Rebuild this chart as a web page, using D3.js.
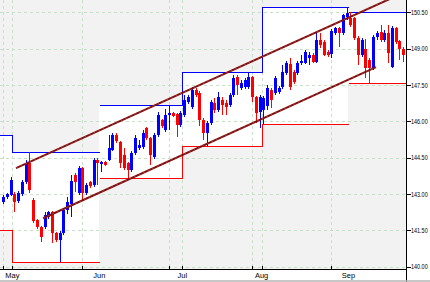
<!DOCTYPE html>
<html>
<head>
<meta charset="utf-8">
<script src="https://cdn.jsdelivr.net/npm/d3@7"></script>
<style>
  body { margin: 0; background: #fff; }
  svg { display: block; }
  text { font-family: "Liberation Sans", Arial, sans-serif; fill: #000; }
</style>
</head>
<body>
<div id="chart"></div>
<script>
// daily candles, one entry per trading day
var opens = [142.66,142.87,142.95,142.99,142.70,142.99,143.49,144.28,142.75,141.92,
  141.63,141.63,142.04,142.25,141.38,141.09,141.38,142.33,142.58,143.78,
  143.04,144.07,143.04,143.49,143.37,144.40,144.23,144.32,144.40,144.81,
  145.43,145.14,144.61,144.28,143.99,144.69,144.90,144.94,145.72,145.31,
  144.52,145.43,146.05,145.64,146.26,146.34,146.30,145.85,146.26,146.80,
  146.59,147.29,147.17,146.05,145.51,145.93,146.75,146.47,146.88,146.75,
  146.67,147.09,147.83,147.37,147.42,147.42,147.83,147.00,146.38,146.47,
  146.63,147.29,147.17,147.21,147.42,147.99,148.37,148.04,147.99,148.41,
  148.41,148.61,148.74,148.45,149.36,149.27,148.86,148.78,149.65,149.85,
  149.65,150.31,150.27,150.27,149.44,148.74,148.99,148.53,148.20,149.48,
  149.69,149.36,149.65,148.24,149.85,149.32,148.99,148.74];
var highs = [142.95,143.04,143.70,143.08,143.12,143.57,144.40,144.73,142.83,141.96,
  141.67,142.25,142.29,142.29,141.42,141.47,142.42,142.87,143.78,143.86,
  144.15,144.11,143.45,143.53,144.48,144.48,144.36,144.36,145.43,145.51,
  145.51,145.18,144.90,144.32,144.77,145.43,145.23,145.64,145.76,145.35,
  145.51,146.38,146.09,146.51,146.67,146.38,146.34,146.42,147.09,147.09,
  147.42,147.37,147.25,146.13,146.01,146.88,146.96,147.21,147.00,146.88,
  147.17,147.91,147.91,147.70,147.79,148.04,147.87,147.04,147.09,147.04,
  147.50,147.37,147.87,147.46,148.32,148.49,148.61,148.12,148.49,148.74,
  148.94,148.86,148.82,149.65,149.65,149.36,148.94,149.81,149.89,149.89,
  150.43,150.72,150.51,150.31,149.52,149.44,149.40,148.61,149.56,149.73,
  149.98,149.77,149.98,149.94,149.89,149.36,149.07,149.07];
var lows = [142.58,142.79,142.91,142.25,142.62,142.91,143.41,143.04,141.80,141.55,
  141.01,141.55,141.96,140.97,141.01,140.18,141.30,142.17,142.04,143.08,
  142.95,142.75,142.95,143.24,143.28,143.37,143.90,144.15,144.36,144.77,
  145.10,144.07,143.99,143.65,143.90,144.61,144.81,144.85,145.23,144.19,
  144.44,145.35,145.72,145.56,145.64,146.18,145.35,145.76,146.18,146.71,
  146.51,147.00,145.80,145.23,144.98,145.85,146.34,146.38,146.26,146.26,
  146.59,147.00,147.09,147.29,147.33,147.33,146.80,145.93,145.72,145.89,
  146.47,146.55,147.09,147.13,147.33,147.91,147.29,147.54,147.91,148.32,
  148.37,148.32,148.41,148.41,149.03,148.70,148.66,148.61,149.56,149.07,
  149.56,150.18,149.89,149.36,148.32,148.66,147.79,147.58,148.12,149.36,
  149.27,149.27,148.41,148.20,149.19,148.53,148.45,148.70];
var closes = [142.87,142.99,143.57,142.66,143.04,143.49,144.28,143.16,141.88,141.63,
  141.22,142.13,142.25,141.38,141.09,141.38,142.33,142.66,143.53,143.49,
  144.07,143.04,143.37,143.32,144.40,144.28,144.32,144.19,144.90,145.43,
  145.18,144.28,144.07,143.99,144.69,145.31,145.02,145.51,145.31,144.61,
  145.43,146.26,145.80,146.26,146.34,146.22,145.85,146.34,146.88,147.00,
  147.29,147.09,146.05,145.51,145.93,146.80,146.47,147.00,146.67,146.59,
  147.09,147.79,147.50,147.58,147.70,147.83,147.00,146.34,147.00,146.96,
  147.37,146.88,147.79,147.37,148.04,148.41,147.42,147.62,148.41,148.49,
  148.86,148.74,148.45,149.36,149.15,148.74,148.74,149.73,149.85,149.65,
  150.39,150.47,149.98,149.44,148.74,149.36,148.20,148.20,149.48,149.65,
  149.36,149.65,148.82,149.85,149.27,148.99,148.74,148.99];

// monthly range boxes
var monthNames = ["Apr", "May", "Jun", "Jul", "Aug", "Sep"];
var monthFirstBar = [-12, 3, 26, 48, 69, 92];
var monthHigh = [145.43, 144.73, 146.67, 148.04, 150.72, 150.51];
var monthLow = [141.50, 140.18, 143.65, 144.98, 145.89, 147.58];
var monthJoined = [false, true, false, true, true, false];

var priceTicks = [140, 141.5, 143, 144.5, 146, 147.5, 149, 150.5];
var gridBars = [0, 2.5, 21, 44, 47.5, 66, 68.5, 87];

// trend channel, [bar, price]
var channelUpper = [[3.44, 144.07], [106, 151.30]];
var channelLower = [[10.6, 142.00], [98.8, 148.24]];

var plotW = 406, plotH = 269;

var svg = d3.select("#chart")
  .append("svg")
  .attr("width", 430)
  .attr("height", 282);

var x = d3.scaleLinear().domain([-0.8, 106.75]).range([0, plotW]);
var y = d3.scaleLinear().domain([140, 150.5]).range([266.7, 12.3]);

svg.append("defs").append("clipPath").attr("id", "clip")
  .append("rect").attr("width", plotW).attr("height", plotH);

var plot = svg.append("g").attr("clip-path", "url(#clip)");

plot.append("rect")
  .attr("width", plotW)
  .attr("height", plotH)
  .attr("fill", "#f2f2f2");

var months = monthNames.map(function(name, i) {
  return {
    name: name,
    start: monthFirstBar[i] - 0.5,
    end: i < monthNames.length - 1 ? monthFirstBar[i + 1] - 0.5 : 120,
    high: monthHigh[i],
    low: monthLow[i],
    prevHigh: i > 0 ? monthHigh[i - 1] : null,
    prevLow: i > 0 ? monthLow[i - 1] : null,
    joined: monthJoined[i]
  };
});

var px = function(v) { return Math.round(v) + 0.5; };

// white month boxes
plot.selectAll("rect.box")
  .data(months)
  .enter()
  .append("rect")
  .attr("x", d => Math.round(x(d.start)))
  .attr("width", d => Math.round(x(d.end)) - Math.round(x(d.start)))
  .attr("y", d => Math.round(y(d.high)))
  .attr("height", d => Math.round(y(d.low)) - Math.round(y(d.high)))
  .attr("fill", "#fff");

// dashed grid
var grid = plot.append("g")
  .attr("stroke", "#c8e0c8")
  .attr("stroke-dasharray", "3,3")
  .attr("shape-rendering", "crispEdges");

grid.selectAll("line.h")
  .data(priceTicks)
  .enter()
  .append("line")
  .attr("x1", 0).attr("x2", plotW)
  .attr("y1", d => px(y(d))).attr("y2", d => px(y(d)));

grid.selectAll("line.v")
  .data(gridBars)
  .enter()
  .append("line")
  .attr("x1", d => px(x(d))).attr("x2", d => px(x(d)))
  .attr("y1", 0).attr("y2", plotH);

// month high / low lines
var levels = plot.append("g").attr("shape-rendering", "crispEdges").attr("fill", "none");

levels.selectAll("path.hi")
  .data(months)
  .enter()
  .append("path")
  .attr("stroke", "#0000ff")
  .attr("d", function(d) {
    var x0 = px(x(d.start)), x1 = px(x(d.end)), yy = px(y(d.high));
    var p = "M" + x0 + "," + yy + "H" + x1;
    if (d.joined) p = "M" + x0 + "," + px(y(d.prevHigh)) + "V" + yy + "H" + x1;
    return p;
  });

levels.selectAll("path.lo")
  .data(months)
  .enter()
  .append("path")
  .attr("stroke", "#ff0000")
  .attr("d", function(d) {
    var x0 = px(x(d.start)), x1 = px(x(d.end)), yy = px(y(d.low));
    var p = "M" + x0 + "," + yy + "H" + x1;
    if (d.joined) p = "M" + x0 + "," + px(y(d.prevLow)) + "V" + yy + "H" + x1;
    return p;
  });

// candles
var bars = d3.range(opens.length);
var color = i => closes[i] >= opens[i] ? "#0000ff" : "#ff0000";

var candles = plot.append("g").attr("shape-rendering", "crispEdges");

candles.selectAll("line")
  .data(bars)
  .enter()
  .append("line")
  .attr("x1", i => px(x(i))).attr("x2", i => px(x(i)))
  .attr("y1", i => Math.round(y(highs[i])))
  .attr("y2", i => Math.round(y(lows[i])))
  .attr("stroke", color);

candles.selectAll("rect")
  .data(bars)
  .enter()
  .append("rect")
  .attr("x", i => Math.round(x(i)) - 1)
  .attr("width", 3)
  .attr("y", i => Math.round(y(Math.max(opens[i], closes[i]))))
  .attr("height", i => Math.max(1, Math.round(y(Math.min(opens[i], closes[i]))) - Math.round(y(Math.max(opens[i], closes[i])))))
  .attr("fill", color);

// channel lines
var chan = d3.line().x(d => x(d[0])).y(d => y(d[1]));
[channelUpper, channelLower].forEach(function(c) {
  plot.append("path")
    .attr("d", chan(c))
    .attr("fill", "none")
    .attr("stroke", "#800c0c")
    .attr("stroke-width", 2);
  plot.append("path")
    .attr("d", chan(c))
    .attr("fill", "none")
    .attr("stroke", "#b85050")
    .attr("stroke-width", 0.7)
    .attr("stroke-dasharray", "2,3");
});

// axes
var axes = svg.append("g").attr("shape-rendering", "crispEdges").attr("stroke", "#000");

axes.append("line")
  .attr("x1", px(plotW)).attr("x2", px(plotW))
  .attr("y1", 0).attr("y2", 282);

axes.append("line")
  .attr("x1", 0).attr("x2", plotW)
  .attr("y1", px(plotH)).attr("y2", px(plotH));

axes.selectAll("line.yt")
  .data(priceTicks)
  .enter()
  .append("line")
  .attr("x1", plotW).attr("x2", plotW + 5)
  .attr("y1", d => px(y(d))).attr("y2", d => px(y(d)));

axes.selectAll("line.xt")
  .data(gridBars)
  .enter()
  .append("line")
  .attr("x1", d => px(x(d))).attr("x2", d => px(x(d)))
  .attr("y1", plotH - 3).attr("y2", plotH);

svg.selectAll("text.price")
  .data(priceTicks)
  .enter()
  .append("text")
  .attr("transform", d => "translate(411," + (y(d) + 2.6) + ") scale(0.78,1)")
  .attr("font-size", "7px")
  .text(d => d.toFixed(2));

svg.selectAll("text.month")
  .data(months.filter(d => d.start > 0))
  .enter()
  .append("text")
  .attr("x", d => x(d.start))
  .attr("y", 278)
  .attr("text-anchor", "middle")
  .attr("font-size", "7.5px")
  .text(d => d.name);

svg.append("line")
  .attr("x1", 0).attr("x2", 430)
  .attr("y1", 281).attr("y2", 281)
  .attr("stroke", "#b4b4b4")
  .attr("stroke-width", 1.5);
</script>
</body>
</html>
